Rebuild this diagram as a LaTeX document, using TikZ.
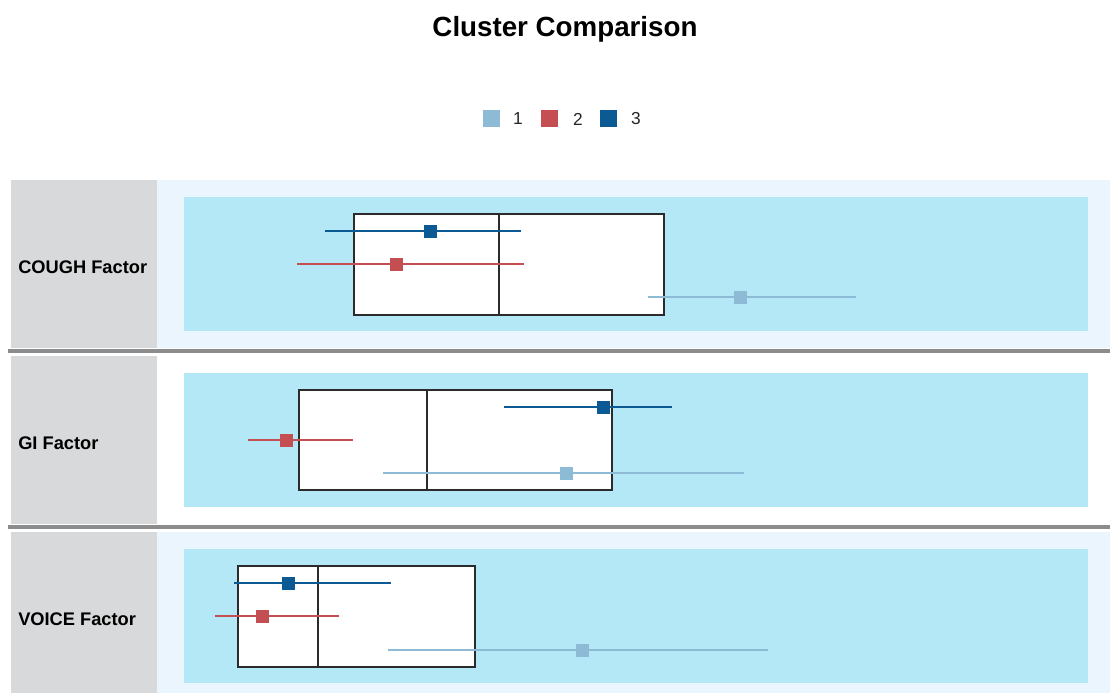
\documentclass[tikz,border=0pt]{standalone}
\usepackage{fontspec}
\setmainfont{Liberation Sans}
\usetikzlibrary{positioning}
\definecolor{rowgray}{HTML}{D8D9DB}
\definecolor{bandblue}{HTML}{EBF5FD}
\definecolor{plotcyan}{HTML}{B5E8F6}
\definecolor{sepgray}{HTML}{8C8C8C}
\definecolor{boxline}{HTML}{2B2B2B}
\definecolor{clone}{HTML}{8DBAD4}
\definecolor{cltwo}{HTML}{C44E52}
\definecolor{clthree}{HTML}{0B5A94}
\tikzset{
  rowlbl/.style={fill=rowgray,draw=none},
  plotbg/.style={fill=plotcyan,draw=none},
  iqrbox/.style={draw=boxline,fill=white,line width=1.5pt},
  bar/.style={draw=#1,line width=1.2pt},
  meanpt/.style={rectangle,fill=#1,minimum size=9.75pt,inner sep=0pt},
  sep/.style={draw=sepgray,line width=3pt},
  factor/.style={anchor=west,inner sep=0pt,font=\fontsize{13.7}{16}\selectfont\bfseries},
  keytxt/.style={inner sep=0pt,font=\fontsize{13}{15}\selectfont,text=black!85},
}

\begin{document}
\begin{tikzpicture}[x=0.75pt,y=-0.75pt]
  \useasboundingbox (0,0) rectangle (1110,693);
  \fill[white] (0,0) rectangle (1110,693);

  % title and legend
  \node[font=\fontsize{20.8}{24}\selectfont\bfseries] (title) at (565,29) {Cluster Comparison};
  \node[meanpt=clone,minimum size=12.75pt] (key1) at (491,118) {};
  \node[keytxt] (lbl1) at (518,119) {1};
  \node[meanpt=cltwo,minimum size=12.75pt] (key2) at (549,118) {};
  \node[keytxt] (lbl2) at (578,119) {2};
  \node[meanpt=clthree,minimum size=12.75pt] (key3) at (608,118) {};
  \node[keytxt] (lbl3) at (636,119) {3};

  % row backgrounds
  \fill[rowlbl] (11,180) rectangle (157,348);
  \fill[rowlbl] (11,356) rectangle (157,524);
  \fill[rowlbl] (11,532) rectangle (157,693);
  \fill[bandblue] (157,180) rectangle (1110,348);
  \fill[bandblue] (157,532) rectangle (1110,693);
  \fill[plotbg] (184,197) rectangle (1088,331);
  \fill[plotbg] (184,373) rectangle (1088,507);
  \fill[plotbg] (184,549) rectangle (1088,683);
  \draw[sep] (8,351) -- (1110,351);
  \draw[sep] (8,527) -- (1110,527);

  \node[factor] (cough) at (18,267) {COUGH Factor};
  \node[factor] (gi) at (18,443) {GI Factor};
  \node[factor] (voice) at (18,619) {VOICE Factor};

  % COUGH
  \draw[iqrbox] (354,214) rectangle (664,315);
  \draw[boxline,line width=1.5pt] (499,214) -- (499,315);
  \draw[bar=clthree] (325,231) -- (521,231);
  \node[meanpt=clthree] (c3) at (430,231) {};
  \draw[bar=cltwo] (297,264) -- (524,264);
  \node[meanpt=cltwo] (c2) at (396,264) {};
  \draw[bar=clone,line width=1pt] (648,297) -- (856,297);
  \node[meanpt=clone] (c1) at (740,297) {};

  % GI
  \draw[iqrbox] (299,390) rectangle (612,490);
  \draw[boxline,line width=1.5pt] (427,390) -- (427,490);
  \draw[bar=clthree] (504,407) -- (672,407);
  \node[meanpt=clthree] (g3) at (603,407) {};
  \draw[bar=cltwo] (248,440) -- (353,440);
  \node[meanpt=cltwo] (g2) at (286,440) {};
  \draw[bar=clone,line width=1pt] (383,473) -- (744,473);
  \node[meanpt=clone] (g1) at (566,473) {};

  % VOICE
  \draw[iqrbox] (238,566) rectangle (475,667);
  \draw[boxline,line width=1.5pt] (318,566) -- (318,667);
  \draw[bar=clthree] (234,583) -- (391,583);
  \node[meanpt=clthree] (v3) at (288,583) {};
  \draw[bar=cltwo] (215,616) -- (339,616);
  \node[meanpt=cltwo] (v2) at (262,616) {};
  \draw[bar=clone,line width=1pt] (388,650) -- (768,650);
  \node[meanpt=clone] (v1) at (582,650) {};
\end{tikzpicture}
\end{document}
